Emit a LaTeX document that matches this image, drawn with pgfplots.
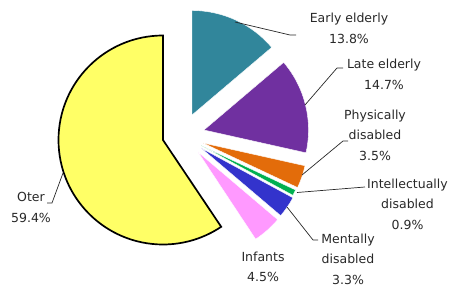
\documentclass[border=0pt]{standalone}
\usepackage{pgfplots}
\pgfplotsset{compat=1.18}
\usepackage{fontspec}
\setmainfont{DejaVu Sans}
\definecolor{cEarly}{RGB}{49,134,155}
\definecolor{cLate}{RGB}{112,48,160}
\definecolor{cPhys}{RGB}{227,108,10}
\definecolor{cIntel}{RGB}{0,176,80}
\definecolor{cMent}{RGB}{51,51,204}
\definecolor{cInf}{RGB}{255,153,255}
\definecolor{cOther}{RGB}{255,255,102}
\definecolor{txt}{RGB}{40,40,40}
% data (percent)
\def\pEarly{13.8}
\def\pLate{14.7}
\def\pPhys{3.5}
\def\pIntel{0.9}
\def\pMent{3.3}
\def\pInf{4.5}
\def\pOther{59.4}
\def\R{104.5}
\tikzset{lbl/.style={font=\fontsize{12.5}{20.5}\selectfont, text=txt, align=center, inner sep=0pt}}
\begin{document}
\begin{tikzpicture}
\pgfmathsetmacro{\aA}{90}
\pgfmathsetmacro{\aB}{\aA-3.6*\pEarly}
\pgfmathsetmacro{\aC}{\aB-3.6*\pLate}
\pgfmathsetmacro{\aD}{\aC-3.6*\pPhys}
\pgfmathsetmacro{\aE}{\aD-3.6*\pIntel}
\pgfmathsetmacro{\aF}{\aE-3.6*\pMent}
\pgfmathsetmacro{\aG}{\aF-3.6*\pInf}
\pgfmathsetmacro{\aH}{\aA+3.6*\pOther}
\begin{axis}[scale only axis, width=455pt, height=289pt, disabledatascaling,
  xmin=0, xmax=455, ymin=0, ymax=289, axis lines=none, clip=false,
  xtick=\empty, ytick=\empty]
% slices
\fill[cOther, draw=black, line width=1.7pt] (axis cs:163,149) -- ++(\aA:\R) arc[start angle=\aA, end angle=\aH, radius=\R] -- cycle;
\fill[cEarly, draw=white, line width=0.4pt] (axis cs:192,174) -- ++(\aA:\R) arc[start angle=\aA, end angle=\aB, radius=\R] -- cycle;
\fill[cLate, draw=white, line width=0.4pt] (axis cs:204,159) -- ++(\aB:\R) arc[start angle=\aB, end angle=\aC, radius=\R] -- cycle;
\fill[cPhys, draw=white, line width=0.4pt] (axis cs:203,146) -- ++(\aC:\R) arc[start angle=\aC, end angle=\aD, radius=\R] -- cycle;
\fill[cIntel, draw=white, line width=0.4pt] (axis cs:201,143.5) -- ++(\aD:\R) arc[start angle=\aD, end angle=\aE, radius=\R] -- cycle;
\fill[cMent, draw=white, line width=0.4pt] (axis cs:201,141) -- ++(\aE:\R) arc[start angle=\aE, end angle=\aF, radius=\R] -- cycle;
\fill[cInf, draw=white, line width=0.4pt] (axis cs:198,137) -- ++(\aF:\R) arc[start angle=\aF, end angle=\aG, radius=\R] -- cycle;
% leader lines
\draw[txt, line width=0.7pt] (axis cs:235,267) -- (axis cs:290,254) -- (axis cs:296,254);
\draw[txt, line width=0.7pt] (axis cs:305,184) -- (axis cs:337,221) -- (axis cs:343,221);
\draw[txt, line width=0.7pt] (axis cs:302,114) -- (axis cs:343,148) -- (axis cs:348,148);
\draw[txt, line width=0.7pt] (axis cs:297,96.5) -- (axis cs:365,102);
\draw[txt, line width=0.7pt] (axis cs:287,82) -- (axis cs:313,49) -- (axis cs:318,49);
\draw[txt, line width=0.7pt] (axis cs:63,116) -- (axis cs:52,86) -- (axis cs:47,86);
% labels
\node[lbl] at (axis cs:349,260.5) {Early elderly\\\pEarly\%};
\node[lbl] at (axis cs:384,214.5) {Late elderly\\\pLate\%};
\node[lbl] at (axis cs:375,154) {Physically\\disabled\\\pPhys\%};
\node[lbl] at (axis cs:407.5,85) {Intellectually\\disabled\\\pIntel\%};
\node[lbl] at (axis cs:348,30) {Mentally\\disabled\\\pMent\%};
\node[lbl] at (axis cs:263,22) {Infants\\\pInf\%};
\node[lbl] at (axis cs:31,81.5) {Oter\\\pOther\%};
\end{axis}
\pgfresetboundingbox
\path (current axis.south west) rectangle (current axis.north east);
\end{tikzpicture}
\end{document}
